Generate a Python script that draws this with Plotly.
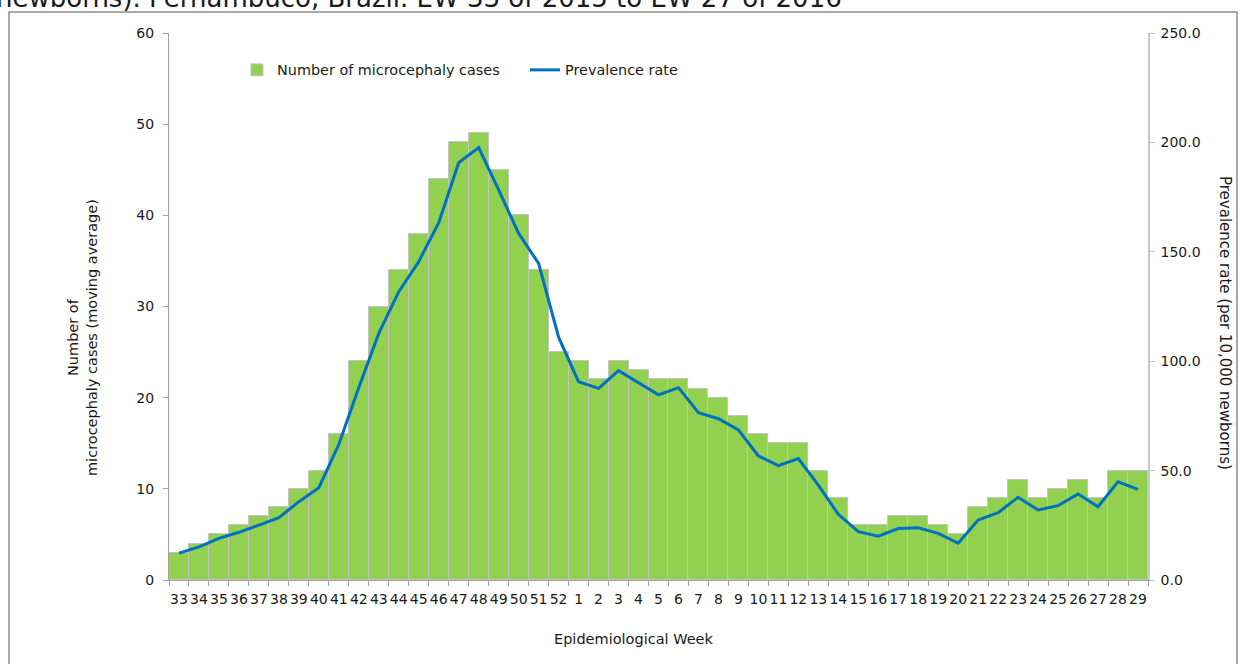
import plotly.graph_objects as go

weeks = [str(w) for w in range(33, 53)] + [str(w) for w in range(1, 30)]
cases = [3, 4, 5, 6, 7, 8, 10, 12, 16, 24, 30, 34, 38, 44, 48, 49, 45, 40, 34, 25,
         24, 22, 24, 23, 22, 22, 21, 20, 18, 16, 15, 15, 12, 9, 6, 6, 7, 7, 6, 5,
         8, 9, 11, 9, 10, 11, 9, 12, 12]
prevalence = [12.3, 15.1, 19.0, 21.8, 25.1, 28.5, 35.8, 42.2, 62.0, 88.0, 112.7, 131.8, 145.5, 163.3, 190.7, 197.6, 178.3, 158.4, 144.7, 111.0,
              90.6, 87.6, 95.7, 90.2, 84.6, 87.9, 76.5, 73.7, 68.6, 56.7, 52.3, 55.5, 43.4, 30.0, 22.1, 20.0, 23.5, 23.9, 21.3, 16.8,
              27.4, 30.8, 37.8, 32.0, 34.0, 39.3, 33.5, 44.9, 41.4]

title_text = "newborns). Pernambuco, Brazil. EW 33 of 2015 to EW 27 of 2016"
y_title = "Number of<br>microcephaly cases (moving average)"
y2_title = "Prevalence rate (per 10,000 newborns)"
x_title = "Epidemiological Week"

FW, FH = 1246, 664
PX0, PX1, PY0, PY1 = 169, 1148, 33, 580   # plot area in page pixels
L, T = PX0, PY0
R, B = FW - PX1, FH - PY1
pw, ph = PX1 - PX0, PY1 - PY0

def px_x(p):
    return (p - PX0) / pw

def px_y(p):
    return (PY1 - p) / ph

font_main = "DejaVu Sans"
txt = "#1a1a1a"

fig = go.Figure()
fig.add_trace(go.Bar(
    x=weeks, y=cases, name="Number of microcephaly cases",
    marker=dict(color="#92D050", line=dict(color="#C4C4C4", width=1)),
    yaxis="y",
))
fig.add_trace(go.Scatter(
    x=weeks, y=prevalence, name="Prevalence rate", mode="lines",
    line=dict(color="#0070C0", width=3),
    yaxis="y2",
))

fig.update_layout(
    width=FW, height=FH,
    margin=dict(l=L, r=R, t=T, b=B, pad=0),
    paper_bgcolor="white", plot_bgcolor="white",
    bargap=0,
    font=dict(family=font_main, size=14, color=txt),
    showlegend=True,
    legend=dict(orientation="h", x=px_x(237), y=px_y(70), xanchor="left", yanchor="middle",
                entrywidth=243, entrywidthmode="pixels",
                font=dict(family=font_main, size=14.4, color=txt),
                bgcolor="rgba(0,0,0,0)"),
    xaxis=dict(type="category", tickson="boundaries", ticks="outside", ticklen=5,
               tickcolor="#A0A0A0", showline=True, linecolor="#A0A0A0", linewidth=1,
               showgrid=False, tickangle=0, ticklabelstandoff=6,
               tickfont=dict(family=font_main, size=14, color=txt)),
    yaxis=dict(range=[0, 60], dtick=10, ticks="outside", ticklen=5, tickcolor="#A0A0A0",
               showline=True, linecolor="#A0A0A0", linewidth=1, showgrid=False,
               zeroline=False, ticklabelstandoff=6,
               tickfont=dict(family=font_main, size=14, color=txt)),
    yaxis2=dict(range=[0, 250], dtick=50, tickformat=".1f", overlaying="y", side="right",
                ticks="outside", ticklen=5, tickcolor="#C8C8C8",
                showline=True, linecolor="#C8C8C8", linewidth=1.5, showgrid=False,
                zeroline=False, ticklabelstandoff=3,
                tickfont=dict(family=font_main, size=14, color=txt)),
)

fig.add_shape(type="rect", xref="paper", yref="paper",
              x0=px_x(9), x1=px_x(1237), y0=px_y(690), y1=px_y(12),
              line=dict(color="#8C8C8C", width=1.5), fillcolor="rgba(0,0,0,0)", layer="below")

fig.add_annotation(text=title_text, xref="paper", yref="paper", x=px_x(-6), y=px_y(15),
                   xanchor="left", yanchor="bottom", showarrow=False,
                   font=dict(family=font_main, size=26, color=txt))
fig.add_annotation(text=y_title, xref="paper", yref="paper", x=px_x(83), y=px_y(338),
                   xanchor="center", yanchor="middle", showarrow=False, textangle=-90,
                   font=dict(family=font_main, size=14.5, color=txt))
fig.add_annotation(text=y2_title, xref="paper", yref="paper", x=px_x(1225), y=px_y(323),
                   xanchor="center", yanchor="middle", showarrow=False, textangle=90,
                   font=dict(family=font_main, size=15, color=txt))
fig.add_annotation(text=x_title, xref="paper", yref="paper", x=px_x(634), y=px_y(639),
                   xanchor="center", yanchor="middle", showarrow=False,
                   font=dict(family=font_main, size=14.5, color=txt))

fig.write_html("out.html", config={"displayModeBar": False},
               post_script="document.body.style.margin='0';")
